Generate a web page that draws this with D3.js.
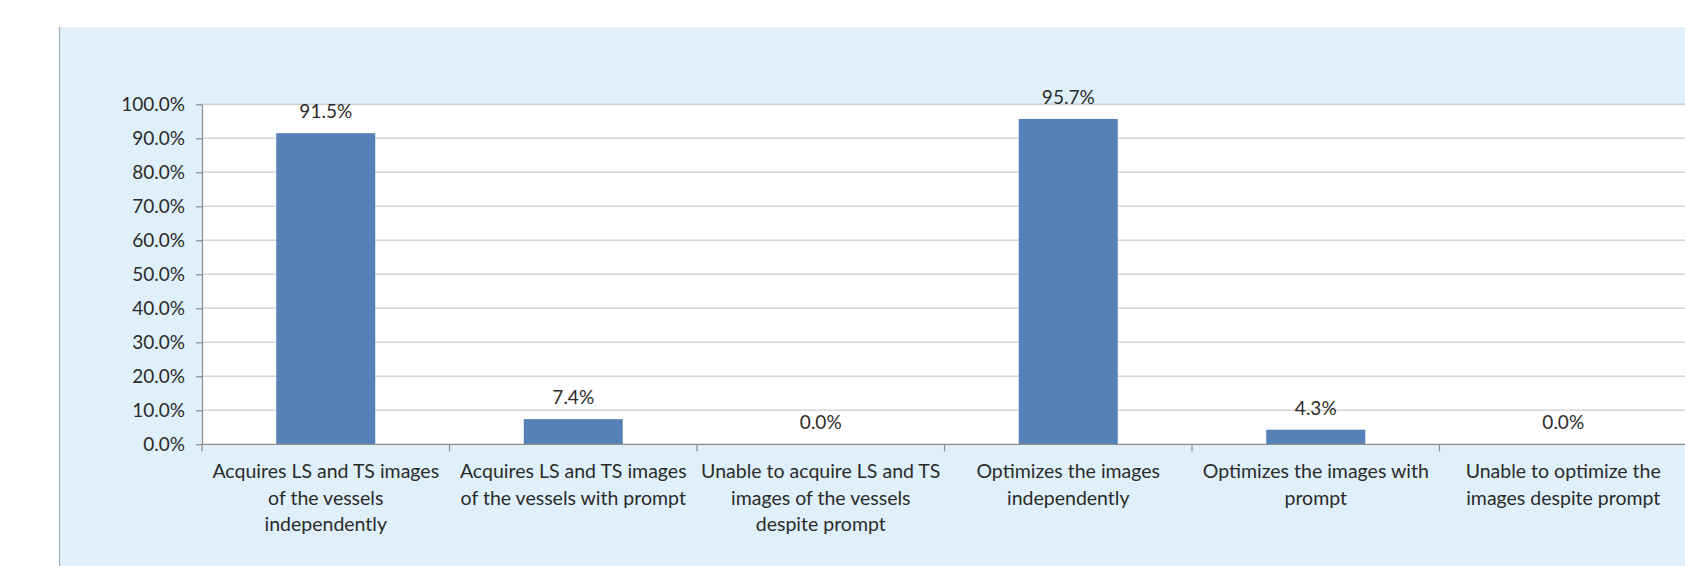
<!DOCTYPE html>
<html>
<head>
<meta charset="utf-8">
<script src="https://cdn.jsdelivr.net/npm/d3@7"></script>
<style>
  html, body { margin: 0; padding: 0; background: #ffffff; }
  svg { display: block; }
  text { font-family: Lato, "Open Sans", sans-serif; fill: #2b2b2b; }
</style>
</head>
<body>
<svg id="chart" width="1685" height="566"></svg>
<script>
// Skill categories (line breaks mark where each label wraps)
const categories = [
  "Acquires LS and TS images\nof the vessels\nindependently",
  "Acquires LS and TS images\nof the vessels with prompt",
  "Unable to acquire LS and TS\nimages of the vessels\ndespite prompt",
  "Optimizes the images\nindependently",
  "Optimizes the images with\nprompt",
  "Unable to optimize the\nimages despite prompt"
];
// Share of participants, percent
const values = [91.5, 7.4, 0.0, 95.7, 4.3, 0.0];
// Value axis ticks, percent
const yTicks = [0, 10, 20, 30, 40, 50, 60, 70, 80, 90, 100];

const W = 1685, H = 566;
const panel = { x: 59, y: 27 };
const plot = { left: 202, right: 1687, top: 104.3, bottom: 444.3 };

const svg = d3.select("#chart");

// light blue chart panel
svg.append("rect")
  .attr("x", panel.x).attr("y", panel.y)
  .attr("width", W - panel.x + 2).attr("height", H - panel.y + 2)
  .attr("fill", "#dff0fb");
svg.append("line")
  .attr("x1", panel.x + 0.5).attr("x2", panel.x + 0.5)
  .attr("y1", panel.y).attr("y2", H)
  .attr("stroke", "#a9b0b6").attr("stroke-width", 1.2);

const x = d3.scaleBand().domain(categories).range([plot.left, plot.right]).padding(0);
const y = d3.scaleLinear().domain([0, 100]).range([plot.bottom, plot.top]);

// plot area
svg.append("rect")
  .attr("x", plot.left).attr("y", plot.top)
  .attr("width", plot.right - plot.left).attr("height", plot.bottom - plot.top)
  .attr("fill", "#ffffff");

// horizontal gridlines
svg.append("g")
  .selectAll("line")
  .data(yTicks.filter(d => d > 0))
  .join("line")
  .attr("x1", plot.left).attr("x2", plot.right)
  .attr("y1", d => y(d)).attr("y2", d => y(d))
  .attr("stroke", d => d === 100 ? "#c9ced3" : "#d6d6d6")
  .attr("stroke-width", 1.4);

// y axis
const yAxis = svg.append("g")
  .attr("transform", `translate(${plot.left},0)`)
  .call(d3.axisLeft(y).tickValues(yTicks).tickFormat(d => d.toFixed(1) + "%")
    .tickSize(6).tickPadding(11).tickSizeOuter(0));
yAxis.select(".domain").attr("stroke", "#8c8c8c").attr("stroke-width", 1.2);
yAxis.selectAll(".tick line").attr("stroke", "#8c8c8c").attr("stroke-width", 1.2);
yAxis.selectAll(".tick text")
  .attr("font-size", 19).attr("font-family", null).attr("fill", "#2b2b2b");

// bars
const barFrac = 0.4;
svg.append("g")
  .selectAll("rect")
  .data(values)
  .join("rect")
  .attr("x", (d, i) => x(categories[i]) + x.bandwidth() * (1 - barFrac) / 2)
  .attr("width", x.bandwidth() * barFrac)
  .attr("y", d => y(d))
  .attr("height", d => y(0) - y(d))
  .attr("fill", "#5581b6");

// data labels
svg.append("g")
  .selectAll("text")
  .data(values)
  .join("text")
  .attr("x", (d, i) => x(categories[i]) + x.bandwidth() / 2)
  .attr("y", d => y(d) - 15)
  .attr("text-anchor", "middle")
  .attr("font-size", 19)
  .text(d => d.toFixed(1) + "%");

// category axis
svg.append("line")
  .attr("x1", plot.left).attr("x2", plot.right)
  .attr("y1", plot.bottom).attr("y2", plot.bottom)
  .attr("stroke", "#8c8c8c").attr("stroke-width", 1.3);
const bounds = categories.map(c => x(c)).concat([plot.right]);
svg.append("g")
  .selectAll("line")
  .data(bounds)
  .join("line")
  .attr("x1", d => d).attr("x2", d => d)
  .attr("y1", plot.bottom).attr("y2", plot.bottom + 7)
  .attr("stroke", "#8c8c8c").attr("stroke-width", 1.2);

const catLabels = svg.append("g")
  .selectAll("text")
  .data(categories)
  .join("text")
  .attr("x", d => x(d) + x.bandwidth() / 2)
  .attr("y", 478)
  .attr("text-anchor", "middle")
  .attr("font-size", 19.5);
catLabels.selectAll("tspan")
  .data(d => d.split("\n"))
  .join("tspan")
  .attr("x", function () { return this.parentNode.getAttribute("x"); })
  .attr("dy", (d, i) => i === 0 ? 0 : 26.5)
  .text(d => d);
</script>
</body>
</html>
